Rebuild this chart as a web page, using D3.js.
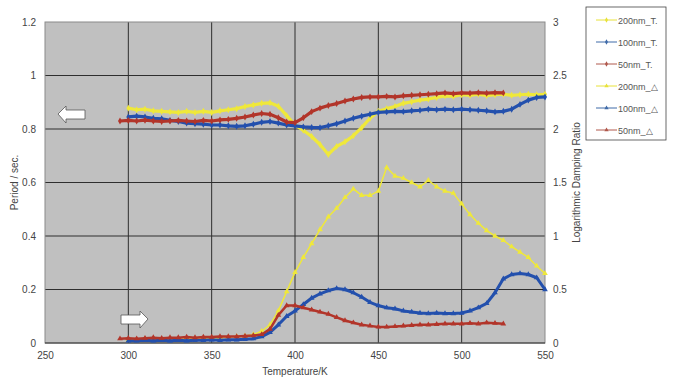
<!DOCTYPE html>
<html>
<head>
<meta charset="utf-8">
<script src="https://cdn.jsdelivr.net/npm/d3@7"></script>
<style>
  body { margin: 0; background: #fff; }
  svg text { font-family: "Liberation Sans", Arial, sans-serif; fill: #444; }
</style>
</head>
<body>
<div id="chart"></div>
<script>
// temperatures (K), shared by all series; null = no reading
const temps = [295, 300, 305, 310, 315, 320, 325, 330, 335, 340, 345, 350, 355, 360, 365, 370, 375, 380, 385, 390,
  395, 400, 405, 410, 415, 420, 425, 430, 435, 440, 445, 450, 455, 460, 465, 470, 475, 480, 485, 490,
  495, 500, 505, 510, 515, 520, 525, 530, 535, 540, 545, 550];

// period (sec) - left axis
const period200 = [null, 0.878, 0.872, 0.874, 0.868, 0.866, 0.864, 0.862, 0.866, 0.862, 0.866, 0.862, 0.868, 0.872, 0.876, 0.884, 0.89, 0.896, 0.898, 0.885,
  0.85, 0.815, 0.795, 0.772, 0.742, 0.705, 0.735, 0.752, 0.775, 0.805, 0.84, 0.866, 0.876, 0.884, 0.896, 0.902, 0.908, 0.912, 0.918, 0.924,
  0.922, 0.928, 0.926, 0.93, 0.925, 0.928, 0.93, 0.926, 0.928, 0.93, 0.928, 0.93];
const period100 = [null, 0.845, 0.848, 0.845, 0.84, 0.838, 0.832, 0.828, 0.822, 0.82, 0.818, 0.815, 0.815, 0.812, 0.81, 0.812, 0.818, 0.825, 0.828, 0.822,
  0.815, 0.812, 0.808, 0.806, 0.805, 0.812, 0.82, 0.83, 0.84, 0.848, 0.855, 0.862, 0.864, 0.866, 0.865, 0.868, 0.87, 0.874, 0.872, 0.874,
  0.872, 0.874, 0.872, 0.87, 0.868, 0.864, 0.866, 0.874, 0.892, 0.908, 0.918, 0.92];
const period50 = [0.83, 0.832, 0.83, 0.833, 0.83, 0.828, 0.83, 0.832, 0.83, 0.828, 0.832, 0.83, 0.834, 0.836, 0.84, 0.845, 0.852, 0.858, 0.855, 0.842,
  0.826, 0.824, 0.842, 0.865, 0.878, 0.888, 0.895, 0.905, 0.912, 0.918, 0.92, 0.92, 0.922, 0.92, 0.924, 0.926, 0.928, 0.93, 0.932, 0.935,
  0.932, 0.935, 0.934, 0.936, 0.934, 0.936, 0.935, null, null, null, null, null];

// logarithmic damping ratio - right axis
const damp200 = [null, 0.03, 0.03, 0.035, 0.03, 0.035, 0.04, 0.035, 0.04, 0.04, 0.045, 0.045, 0.05, 0.055, 0.06, 0.065, 0.08, 0.11, 0.17, 0.3,
  0.48, 0.66, 0.8, 0.93, 1.06, 1.18, 1.26, 1.36, 1.44, 1.38, 1.38, 1.42, 1.64, 1.56, 1.54, 1.5, 1.46, 1.52, 1.46, 1.42,
  1.4, 1.3, 1.2, 1.12, 1.05, 1.0, 0.96, 0.9, 0.85, 0.8, 0.72, 0.65];
const damp100 = [null, 0.02, 0.02, 0.025, 0.02, 0.025, 0.02, 0.025, 0.02, 0.025, 0.025, 0.03, 0.025, 0.03, 0.03, 0.035, 0.04, 0.06, 0.1, 0.17,
  0.25, 0.3, 0.36, 0.42, 0.46, 0.49, 0.51, 0.5, 0.47, 0.43, 0.38, 0.35, 0.33, 0.32, 0.3, 0.29, 0.28, 0.275, 0.28, 0.275,
  0.275, 0.28, 0.3, 0.33, 0.37, 0.47, 0.6, 0.64, 0.65, 0.64, 0.61, 0.5];
const damp50 = [0.04, 0.045, 0.04, 0.045, 0.05, 0.045, 0.05, 0.05, 0.055, 0.05, 0.055, 0.055, 0.06, 0.06, 0.06, 0.065, 0.07, 0.08, 0.13, 0.26,
  0.35, 0.35, 0.33, 0.31, 0.29, 0.27, 0.24, 0.21, 0.19, 0.17, 0.16, 0.15, 0.15, 0.155, 0.16, 0.165, 0.17, 0.17, 0.175, 0.18,
  0.18, 0.18, 0.185, 0.18, 0.19, 0.185, 0.18, null, null, null, null, null];

const xTicks = [250, 300, 350, 400, 450, 500, 550];
const leftTicks = [0, 0.2, 0.4, 0.6, 0.8, 1, 1.2];
const rightTicks = [0, 0.5, 1, 1.5, 2, 2.5, 3];

const seriesNames = ['200nm_T.', '100nm_T.', '50nm_T.', '200nm_\u25B3', '100nm_\u25B3', '50nm_\u25B3'];
const seriesColors = ['#efe83a', '#2350ad', '#b2352a', '#efe83a', '#2350ad', '#b2352a'];
const legendColors = ['#e8e23a', '#3f6aa8', '#b0584c', '#e8e23a', '#3f6aa8', '#b0584c'];

const width = 675, height = 379;
const margin = {left: 45, right: 130, top: 22, bottom: 36};
const plot = {width: width - margin.left - margin.right, height: height - margin.top - margin.bottom};

const svg = d3.select('#chart').append('svg').attr('width', width).attr('height', height);

const x = d3.scaleLinear().domain([250, 550]).range([0, plot.width]);
const yL = d3.scaleLinear().domain([0, 1.2]).range([plot.height, 0]);
const yR = d3.scaleLinear().domain([0, 3]).range([plot.height, 0]);

const g = svg.append('g').attr('transform', 'translate(' + margin.left + ',' + margin.top + ')');

g.append('rect').attr('width', plot.width).attr('height', plot.height).style('fill', '#c0c0c0');

// grid
g.append('g').selectAll('line').data(leftTicks.slice(1, -1)).enter().append('line')
  .attr('x1', 0).attr('x2', plot.width)
  .attr('y1', d => yL(d)).attr('y2', d => yL(d))
  .style('stroke', '#2e2e2e').style('stroke-width', 1);
g.append('g').selectAll('line').data(xTicks.slice(1, -1)).enter().append('line')
  .attr('y1', 0).attr('y2', plot.height)
  .attr('x1', d => x(d)).attr('x2', d => x(d))
  .style('stroke', '#2e2e2e').style('stroke-width', 1);
g.append('rect').attr('width', plot.width).attr('height', plot.height)
  .style('fill', 'none').style('stroke', '#8a8a8a').style('stroke-width', 1);
g.append('line').attr('x1', 0).attr('x2', plot.width).attr('y1', plot.height).attr('y2', plot.height)
  .style('stroke', '#2e2e2e');

// axes (labels only, Excel style)
const xAxis = g.append('g').attr('transform', 'translate(0,' + plot.height + ')')
  .call(d3.axisBottom(x).tickValues(xTicks).tickSize(0).tickPadding(9));
const yAxisL = g.append('g').call(d3.axisLeft(yL).tickValues(leftTicks).tickSize(0).tickPadding(9).tickFormat(d3.format('')));
const yAxisR = g.append('g').attr('transform', 'translate(' + plot.width + ',0)')
  .call(d3.axisRight(yR).tickValues(rightTicks).tickSize(0).tickPadding(8).tickFormat(d3.format('')));
[xAxis, yAxisL, yAxisR].forEach(a => {
  a.select('.domain').remove();
  a.selectAll('text').style('font-size', '10px').style('fill', '#444');
});

svg.append('text').attr('x', margin.left + plot.width / 2).attr('y', 375)
  .attr('text-anchor', 'middle').style('font-size', '10px').text('Temperature/K');
svg.append('text').attr('transform', 'translate(18,' + (margin.top + plot.height / 2) + ') rotate(-90)')
  .attr('text-anchor', 'middle').style('font-size', '10px').text('Period / sec.');
svg.append('text').attr('transform', 'translate(580,' + (margin.top + plot.height / 2) + ') rotate(-90)')
  .attr('text-anchor', 'middle').style('font-size', '10px').text('Logarithmic Damping Ratio');

// series
const series = [
  {vals: period200, y: yL, sym: d3.symbolDiamond, lw: 3.2},
  {vals: period100, y: yL, sym: d3.symbolDiamond, lw: 3.2},
  {vals: period50, y: yL, sym: d3.symbolDiamond, lw: 3.2},
  {vals: damp200, y: yR, sym: d3.symbolTriangle, lw: 1.5},
  {vals: damp100, y: yR, sym: d3.symbolTriangle, lw: 3},
  {vals: damp50, y: yR, sym: d3.symbolTriangle, lw: 2.5}
];

const lines = g.append('g').attr('class', 'lines');
series.forEach((s, i) => {
  const pts = temps.map((t, j) => ({t: t, v: s.vals[j]})).filter(d => d.v !== null);
  const line = d3.line().x(d => x(d.t)).y(d => s.y(d.v));
  lines.append('path').datum(pts).attr('d', line)
    .style('fill', 'none').style('stroke', seriesColors[i]).style('stroke-width', s.lw)
    .style('stroke-linejoin', 'round');
  lines.append('g').selectAll('path').data(pts).enter().append('path')
    .attr('transform', d => 'translate(' + x(d.t) + ',' + s.y(d.v) + ')')
    .attr('d', d3.symbol().type(s.sym).size(14))
    .style('fill', seriesColors[i]);
});

// arrows pointing to each axis
const arrowL = 'M0,8 L8,0 L8,4 L27,4 L27,13 L8,13 L8,17 Z';
const arrowR = 'M27,8 L19,0 L19,4 L0,4 L0,13 L19,13 L19,17 Z';
svg.append('path').attr('d', arrowL).attr('transform', 'translate(58,106)')
  .style('fill', '#fff').style('stroke', '#555').style('stroke-width', 0.8);
svg.append('path').attr('d', arrowR).attr('transform', 'translate(121,311)')
  .style('fill', '#fff').style('stroke', '#555').style('stroke-width', 0.8);

// legend
const legend = svg.append('g').attr('transform', 'translate(586,7)');
legend.append('rect').attr('width', 80).attr('height', 133)
  .style('fill', '#fff').style('stroke', '#444').style('stroke-width', 0.8);
const items = legend.selectAll('g.item').data(seriesNames).enter().append('g').attr('class', 'item')
  .attr('transform', (d, i) => 'translate(0,' + (13 + i * 22) + ')');
items.append('line').attr('x1', 10).attr('x2', 31).attr('y1', 0).attr('y2', 0)
  .style('stroke', (d, i) => legendColors[i]).style('stroke-width', 1);
items.append('path').attr('transform', 'translate(20.5,0)')
  .attr('d', (d, i) => d3.symbol().type(i < 3 ? d3.symbolDiamond : d3.symbolTriangle).size(8)())
  .style('fill', (d, i) => legendColors[i]);
items.append('text').attr('x', 32).attr('y', 3.5).style('font-size', '9px').style('fill', '#555').text(d => d);
</script>
</body>
</html>
